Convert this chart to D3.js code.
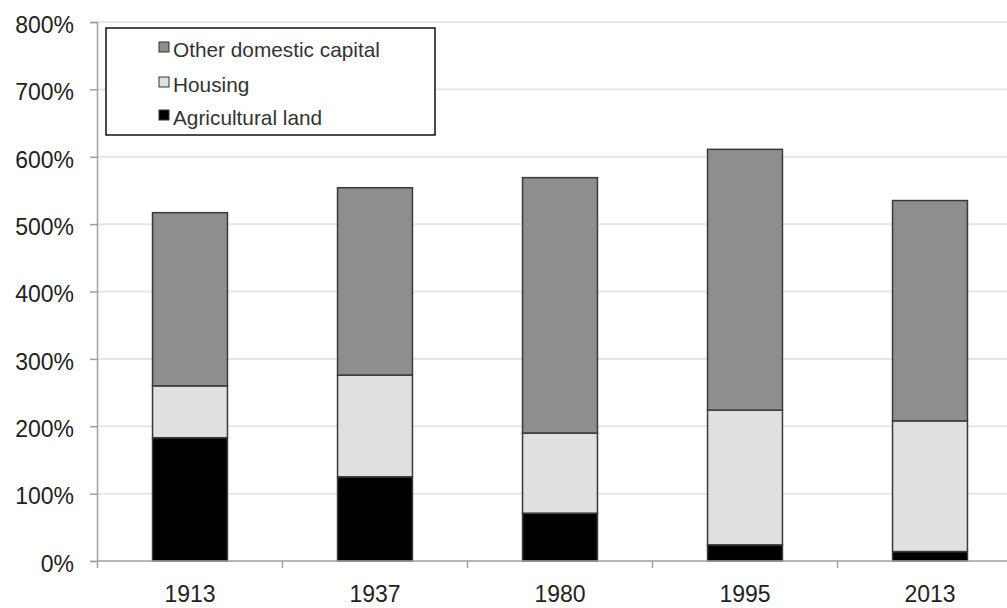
<!DOCTYPE html>
<html><head><meta charset="utf-8">
<script src="https://cdn.jsdelivr.net/npm/d3@7"></script>
<style>body{margin:0;background:#fff}svg{display:block}text{font-family:"Liberation Sans",Arial,sans-serif}</style>
</head><body><svg id="c" width="1007" height="608"></svg>
<script>
const years = ["1913","1937","1980","1995","2013"];
const agricultural = [183,125,71,24,14];
const housing = [77,151,119,200,194];
const otherCapital = [257,278,379,387,327];
const seriesNames = ["Agricultural land","Housing","Other domestic capital"];
const seriesColors = ["#000000","#e0e0e0","#8e8e8e"];
const yTicks = [0,100,200,300,400,500,600,700,800];

const svg = d3.select("#c");
const rows = years.map((y,i)=>({year:y, a:agricultural[i], h:housing[i], o:otherCapital[i]}));
const stack = d3.stack().keys(["a","h","o"])(rows);

const y = d3.scaleLinear().domain([0,800]).range([561,22]);
const xb = d3.scaleBand().domain(years).range([97.5,1022.5]);
const x = d3.scaleBand().domain(years).range([97.5,1022.5]).paddingInner(0.595).paddingOuter(0.2975);

// gridlines
svg.append("g").selectAll("line").data(yTicks.filter(d=>d>0)).join("line")
  .attr("x1",97).attr("x2",1030).attr("y1",d=>y(d)).attr("y2",d=>y(d))
  .attr("stroke","#e6e6e6").attr("stroke-width",2);

// y axis
const yAxis = svg.append("g").attr("transform","translate(97,0)")
  .call(d3.axisLeft(y).tickValues(yTicks).tickFormat(d=>d+"%").tickSize(7).tickPadding(16));
yAxis.select(".domain").attr("stroke","#a0a0a0").attr("stroke-width",1.5);
yAxis.selectAll(".tick line").attr("stroke","#a0a0a0").attr("stroke-width",1.5);
yAxis.selectAll(".tick text").attr("font-size",23).attr("fill","#222")
  .attr("font-family","'Liberation Sans',Arial,sans-serif").attr("dy","0.45em");

// bars
svg.append("g").selectAll("g").data(stack).join("g")
  .attr("fill",(d,i)=>seriesColors[i])
  .selectAll("rect").data(d=>d).join("rect")
  .attr("x",d=>x(d.data.year)).attr("width",x.bandwidth())
  .attr("y",d=>y(d[1])).attr("height",d=>y(d[0])-y(d[1]))
  .attr("stroke","#3a3a3a").attr("stroke-width",1.5);

// x axis
const xg = svg.append("g");
xg.append("line").attr("x1",97).attr("x2",1030).attr("y1",561).attr("y2",561)
  .attr("stroke","#a0a0a0").attr("stroke-width",1.5);
xg.selectAll("line.t").data(years).join("line").attr("class","t")
  .attr("x1",d=>xb(d)).attr("x2",d=>xb(d)).attr("y1",561).attr("y2",568)
  .attr("stroke","#a0a0a0").attr("stroke-width",1.5);
xg.selectAll("text").data(years).join("text")
  .attr("x",d=>x(d)+x.bandwidth()/2).attr("y",602).attr("text-anchor","middle")
  .attr("font-size",23).attr("fill","#222").text(d=>d);

// legend
const lg = svg.append("g");
lg.append("rect").attr("x",106).attr("y",28).attr("width",329).attr("height",107)
  .attr("fill","#fff").attr("stroke","#111").attr("stroke-width",1.5);
const legendOrder = [2,1,0];
const ly = [57,92,125];
legendOrder.forEach((si,k)=>{
  lg.append("rect").attr("x",159).attr("y",ly[k]-15).attr("width",10).attr("height",10)
    .attr("fill",seriesColors[si]).attr("stroke","#333").attr("stroke-width",1);
  lg.append("text").attr("x",173).attr("y",ly[k]).attr("font-size",20.8).attr("fill","#333")
    .text(seriesNames[si]);
});
</script></body></html>
